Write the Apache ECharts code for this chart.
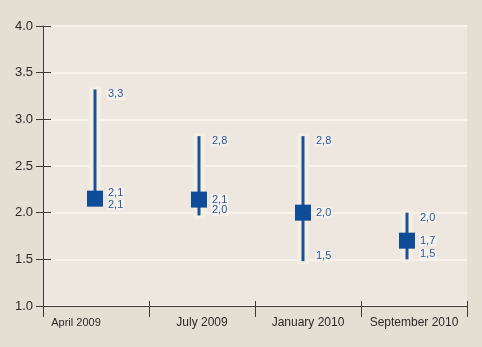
<!DOCTYPE html>
<html>
<head>
<meta charset="utf-8">
<script src="https://cdn.jsdelivr.net/npm/echarts@6/dist/echarts.min.js"></script>
<style>
html,body{margin:0;padding:0;background:#e5ded3;}
#c{width:482px;height:347px;}
</style>
</head>
<body>
<div id="c"></div>
<script>
var categories = ['April 2009', 'July 2009', 'January 2010', 'September 2010'];
var highValues = [3.32, 2.82, 2.82, 2.0];
var midValues = [2.15, 2.14, 2.0, 1.7];
var lowValues = [2.1, 1.97, 1.48, 1.5];
var highLabels = [3.3, 2.8, 2.8, 2.0];
var midLabels = [2.1, 2.1, 2.0, 1.7];
var lowLabels = [2.1, 2.0, 1.5, 1.5];
var yTicks = ['1.0', '1.5', '2.0', '2.5', '3.0', '3.5', '4.0'];

var FONT = 'Liberation Sans, Arial, sans-serif';
var BLUE = '#0f4c97';
var LABEL = '#2b5a9c';

function fmt(v) { return v.toFixed(1).replace('.', ','); }

var seriesData = categories.map(function (c, i) {
  return [i, highValues[i], midValues[i], lowValues[i], highLabels[i], midLabels[i], lowLabels[i]];
});

var chart = echarts.init(document.getElementById('c'));
chart.setOption({
  backgroundColor: '#e5ded3',
  animation: false,
  grid: [
    { left: 43, right: 15, top: 26, bottom: 41, show: true, backgroundColor: '#ede7e0', borderWidth: 0 },
    { left: 43, right: 23, top: 26, bottom: 41 }
  ],
  xAxis: [
    {
      type: 'category', gridIndex: 0, data: categories.map(function (c, i) {
        return i === 0 ? { value: c, textStyle: { fontSize: 11, padding: [0, 40, 0, 0] } } : c;
      }),
      boundaryGap: true,
      axisLine: { lineStyle: { color: '#3c3b33', width: 1 } },
      axisTick: { show: true, interval: 0, length: 11, lineStyle: { color: '#3c3b33' } },
      axisLabel: { interval: 0, color: '#2a2a26', fontSize: 12, fontFamily: FONT, margin: 11 },
      splitLine: { show: false }
    },
    {
      type: 'category', gridIndex: 0, data: categories, position: 'bottom',
      axisLine: { show: false },
      axisTick: { show: true, interval: 0, inside: true, length: 5, lineStyle: { color: '#3c3b33' } },
      axisLabel: { show: false }, splitLine: { show: false }
    },
    {
      type: 'category', gridIndex: 1, data: categories, show: false
    }
  ],
  yAxis: [
    {
      type: 'value', gridIndex: 0, min: 1, max: 4, interval: 0.5,
      axisLine: { show: true, lineStyle: { color: '#3c3b33', width: 1 } },
      axisTick: { show: true, length: 7, lineStyle: { color: '#3c3b33' } },
      axisLabel: {
        color: '#2a2a26', fontSize: 13, fontFamily: FONT, margin: 10,
        formatter: function (v) { return yTicks[Math.round((v - 1) / 0.5)]; }
      },
      splitLine: { show: true, lineStyle: { color: '#f8f4ec', width: 2 } }
    },
    {
      type: 'value', gridIndex: 0, min: 1, max: 4, interval: 0.5, position: 'left',
      axisLine: { show: false },
      axisTick: { show: true, inside: true, length: 8, lineStyle: { color: '#3c3b33' } },
      axisLabel: { show: false }, splitLine: { show: false }
    },
    {
      type: 'value', gridIndex: 1, min: 1, max: 4, show: false
    }
  ],
  series: [{
    type: 'custom',
    xAxisIndex: 2, yAxisIndex: 2,
    data: seriesData,
    renderItem: function (params, api) {
      var x = api.coord([api.value(0), api.value(2)])[0];
      var yHi = api.coord([api.value(0), api.value(1)])[1];
      var yMid = api.coord([api.value(0), api.value(2)])[1];
      var yLo = api.coord([api.value(0), api.value(3)])[1];
      var hl = api.value(4), ml = api.value(5), ll = api.value(6);
      var stacked = Math.abs(yLo - yMid) < 14;
      var midY = stacked ? yMid - 6 : yMid;
      var loY = stacked ? yMid + 6 : yLo - 5;
      var tStyle = function (txt, y) {
        return {
          type: 'text',
          style: {
            text: txt, x: x + 12, y: y, align: 'left', verticalAlign: 'middle',
            fill: LABEL, font: '11px ' + FONT,
            backgroundColor: 'rgba(246,242,236,0.8)', padding: [0, 1]
          }
        };
      };
      return {
        type: 'group',
        children: [
          { type: 'rect', shape: { x: x - 6, y: yHi - 3, width: 12, height: yLo - yHi + 6 },
            style: { fill: '#f4efe3' } },
          { type: 'line', shape: { x1: x, y1: yHi, x2: x, y2: yLo },
            style: { stroke: '#1f4f97', lineWidth: 3 } },
          { type: 'rect', shape: { x: x - 8, y: yMid - 8, width: 16, height: 16 },
            style: { fill: BLUE } },
          tStyle(fmt(hl), yHi + 5),
          tStyle(fmt(ml), midY),
          tStyle(fmt(ll), loY)
        ]
      };
    }
  }]
});
</script>
</body>
</html>
